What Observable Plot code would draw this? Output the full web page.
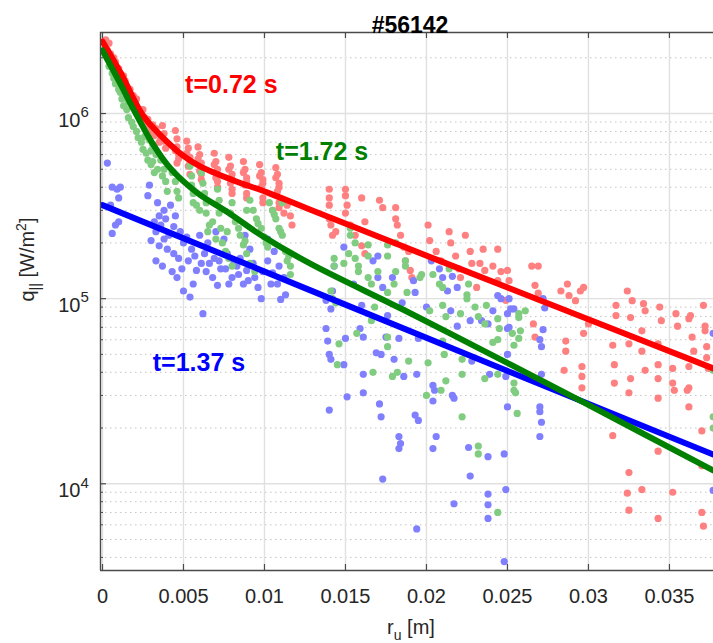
<!DOCTYPE html>
<html><head><meta charset="utf-8">
<script src="https://cdn.jsdelivr.net/npm/d3@7"></script>
<script src="https://cdn.jsdelivr.net/npm/@observablehq/plot@0.6"></script>
<style>body{margin:0;background:#fff} svg{display:block}</style>
</head><body><div id="chart"></div>
<script>
// ---- data: [r_u (m), q_par (W/m^2)] ----
const red = [
[0.0002,2.5e6],[0.0004,2.4e6],[0.0003,2.2e6],[0.0005,2.1e6],[0.0007,2.0e6],[0.0008,1.9e6],[0.0010,1.75e6],[0.0011,1.65e6],[0.0013,1.6e6],[0.0014,1.5e6],[0.0015,1.4e6],[0.0017,1.35e6],[0.0019,1.25e6],[0.0020,1.15e6],[0.0021,1.2e6],[0.0023,1.05e6],[0.0024,1.0e6],[0.0026,9.5e5],[0.0027,9.0e5],[0.0029,8.6e5],[0.0030,8.0e5],[0.0032,7.6e5],[0.0033,8.3e5],[0.0035,7.0e5],[0.0036,7.3e5],[0.0025,1.05e6],[0.0028,9.3e5],[0.0031,8.7e5],
[0.0037,8.6e5],[0.0038,7.8e5],[0.0038,7.1e5],[0.0039,6.5e5],
[0.0045,8.1e5],[0.0046,7.3e5],[0.0046,6.6e5],[0.0047,6.0e5],[0.0046,5.4e5],[0.0045,6.3e5],[0.0047,5.7e5],
[0.0052,7.1e5],[0.0053,6.5e5],[0.0054,5.8e5],[0.0053,5.2e5],[0.0054,4.7e5],[0.0052,6.1e5],[0.0054,5.5e5],
[0.0059,6.6e5],[0.0060,6.0e5],[0.0061,5.4e5],[0.0060,4.9e5],[0.0061,4.4e5],[0.0059,5.7e5],[0.0061,4.7e5],
[0.0069,6.1e5],[0.0070,5.5e5],[0.0071,5.0e5],[0.0070,4.5e5],[0.0071,4.0e5],[0.0069,5.3e5],[0.0071,4.3e5],
[0.0078,5.8e5],[0.0079,5.2e5],[0.0080,4.7e5],[0.0079,4.2e5],[0.0080,3.9e5],[0.0078,5.0e5],[0.0080,4.4e5],[0.0080,3.7e5],
[0.0087,5.5e5],[0.0088,5.0e5],[0.0089,4.5e5],[0.0088,4.1e5],[0.0089,3.7e5],[0.0087,4.8e5],[0.0089,4.3e5],[0.0089,3.5e5],
[0.0097,5.3e5],[0.0098,4.8e5],[0.0099,4.4e5],[0.0098,4.0e5],[0.0099,3.5e5],[0.0097,4.6e5],[0.0099,4.2e5],[0.0099,3.3e5],
[0.0107,5.1e5],[0.0108,4.7e5],[0.0109,4.2e5],[0.0108,3.8e5],[0.0109,3.3e5],[0.0107,4.5e5],[0.0109,4.0e5],[0.0109,3.1e5],
[0.0114,3.2e5],[0.0116,2.8e5],[0.0117,2.5e5],[0.0112,2.9e5],[0.0105,3.0e5],
[0.0140,3.9e5],[0.0140,3.5e5],[0.0140,3.2e5],[0.0150,3.9e5],[0.0150,3.6e5],[0.0151,3.2e5],[0.0160,3.5e5],[0.0171,3.4e5],[0.0181,3.1e5],[0.0173,3.1e5],
[0.0140,2.7e5],[0.0141,2.5e5],[0.0142,2.2e5],[0.0144,2.3e5],[0.0150,2.9e5],[0.0153,2.5e5],[0.0156,2.2e5],[0.0160,1.93e5],[0.0162,1.75e5],[0.0162,2.6e5],
[0.0181,2.7e5],[0.0182,2.5e5],[0.0184,2.2e5],[0.0186,1.9e5],[0.0187,1.6e5],[0.0190,1.42e5],[0.0191,1.3e5],[0.0189,1.8e5],
[0.0201,2.5e5],[0.0202,2.06e5],[0.0206,1.8e5],[0.0209,1.6e5],[0.0214,2.3e5],[0.0215,2.0e5],[0.0218,1.7e5],[0.0220,1.45e5],[0.0221,1.3e5],
[0.0224,2.2e5],[0.0227,1.8e5],[0.0228,1.55e5],[0.0231,1.15e5],[0.0233,1.55e5],[0.0236,1.42e5],[0.0241,1.5e5],[0.0244,1.25e5],[0.0249,9.8e4],[0.0246,1.4e5],
[0.0235,1.85e5],[0.0244,1.85e5],[0.0265,1.5e5],[0.0269,1.5e5],[0.0287,1.2e5],[0.0297,1.15e5],[0.0283,1.1e5],
[0.0250,1.42e5],[0.0251,1.25e5],[0.0267,1.18e5],[0.0269,1.07e5],[0.0266,7.3e4],[0.0267,6.2e4],
[0.0288,1.04e5],[0.0292,9.75e4],[0.0295,1.1e5],[0.0286,5.9e4],[0.0286,5.2e4],[0.0285,4.1e4],[0.0296,4.3e4],[0.0296,3.8e4],[0.0296,3.3e4],[0.0297,6.5e4],[0.0300,7.3e4],
[0.0317,9.2e4],[0.0317,8.1e4],[0.0324,1.1e5],[0.0327,9.75e4],[0.0326,7.9e4],[0.0315,5.6e4],[0.0316,4.4e4],[0.0316,3.5e4],[0.0325,5.7e4],[0.0326,3.7e4],
[0.0334,9.4e4],[0.0335,8.6e4],[0.0333,6.7e4],[0.0333,5.2e4],[0.0335,4.1e4],[0.0344,9.0e4],[0.0345,7.6e4],[0.0343,5.7e4],[0.0343,4.4e4],[0.0343,3.7e4],
[0.0354,8.3e4],[0.0355,7.1e4],[0.0352,4.2e4],[0.0352,3.5e4],[0.0362,7.8e4],[0.0364,6.2e4],[0.0365,5.2e4],[0.0362,4.3e4],[0.0362,3.3e4],
[0.0371,9.2e4],[0.0372,7.1e4],[0.0372,6.7e4],[0.0373,5.5e4],[0.0373,4.8e4],[0.0374,4.2e4],[0.0363,8.1e4],
[0.0325,3.1e4],[0.0343,2.9e4],[0.0315,1.82e4],[0.0343,1.5e4],[0.0325,1.15e4],[0.0324,8.9e3],[0.0333,9.3e3],[0.0325,7.2e3],[0.0343,6.5e3],[0.0352,9.0e3],[0.0353,3.2e4],[0.0361,3.2e4],[0.0362,2.6e4],[0.0370,1.93e4],[0.0370,1.25e4],[0.0370,7.0e3],[0.0371,5.9e3]
];
const blue = [
[0.0003,5.4e5],[0.0006,4.0e5],[0.0009,3.9e5],[0.0011,4.0e5],[0.0010,3.5e5],[0.0005,3.2e5],[0.0008,2.5e5],[0.0006,2.25e5],[0.0010,2.6e5],[0.0029,4.1e5],[0.0028,3.6e5],[0.0034,3.3e5],[0.0038,3.0e5],[0.0042,3.2e5],[0.0045,2.8e5],
[0.0032,2.6e5],[0.0033,2.3e5],[0.0036,2.5e5],[0.0030,2.06e5],[0.0035,1.93e5],[0.0038,2.1e5],[0.0041,2.2e5],[0.0040,1.85e5],[0.0044,1.75e5],[0.0033,1.6e5],[0.0037,1.5e5],[0.0048,2.3e5],[0.0050,2.0e5],[0.0047,1.65e5],[0.0043,1.4e5],[0.0046,1.3e5],[0.0053,1.6e5],[0.0055,1.85e5],[0.0058,1.42e5],[0.0056,1.2e5],[0.0050,1.1e5],[0.0054,1.02e5],[0.0062,8.3e4],[0.0060,2.2e5],[0.0063,1.75e5],[0.0066,1.55e5],[0.0068,1.3e5],[0.0071,1.18e5],[0.0065,2.0e5],[0.0072,1.6e5],[0.0076,1.45e5],[0.0080,1.3e5],[0.0078,1.2e5],[0.0083,1.5e5],[0.0085,1.65e5],[0.0087,1.2e5],[0.0089,1.42e5],[0.0091,1.85e5],[0.0094,1.3e5],[0.0098,1.0e5],[0.0102,1.6e5],[0.0105,1.38e5],[0.0108,1.2e5],[0.0110,9.9e4],[0.0113,1.05e5],[0.0070,2.3e5],[0.0075,2.1e5],[0.0088,2.2e5],[0.0102,2.1e5],[0.0106,1.8e5],
[0.0039,2.7e5],[0.0044,2.45e5],[0.0052,2.15e5],[0.0057,1.7e5],[0.0061,1.55e5],[0.0064,1.4e5],[0.0069,1.65e5],[0.0073,1.45e5],[0.0077,1.75e5],[0.0081,1.6e5],[0.0084,1.35e5],[0.0090,1.25e5],[0.0093,1.55e5],[0.0096,1.15e5],[0.0099,1.4e5],[0.0104,1.2e5],[0.0109,1.5e5],[0.0112,1.3e5],[0.0035,2.8e5],[0.0049,1.45e5],
[0.0138,6.9e4],[0.0139,5.9e4],[0.0140,5.0e4],[0.0141,4.7e4],[0.0142,1.1e5],[0.0138,9.8e4],[0.0141,8.8e4],[0.0149,1.9e5],[0.0150,6.1e4],[0.0149,4.4e4],[0.0159,6.9e4],[0.0161,6.2e4],[0.0161,3.9e4],[0.0167,1.6e5],[0.0170,1.3e5],[0.0173,1.15e5],[0.0169,5.1e4],[0.0175,6.2e4],[0.0172,5.0e4],[0.0183,6.1e4],[0.0180,4.7e4],[0.0186,3.8e4],[0.0193,1.08e5],[0.0195,6.1e4],[0.0194,3.9e4],[0.0204,3.4e4],[0.0208,1.45e5],[0.0216,1.32e5],[0.0213,1.1e5],[0.0215,8.6e4],[0.0219,1.15e5],[0.0219,7.1e4],[0.0227,7.6e4],[0.0234,7.6e4],[0.0238,7.3e4],[0.0241,8.6e4],[0.0228,4.6e4],[0.0239,3.9e4],[0.0244,1.04e5],[0.0251,7.0e4],[0.0170,1.7e5],[0.0179,1.3e5],[0.0192,1.25e5],[0.0203,1.6e5],[0.0210,1.3e5],[0.0246,1.0e5],[0.0252,8.8e4],[0.0272,1.0e5],[0.0143,1.5e5],[0.0155,1.2e5],[0.0160,9.2e4],[0.0185,9.5e4],[0.0200,9.0e4],[0.0176,8.1e4],
[0.0140,2.5e4],[0.0151,2.95e4],[0.0161,3.1e4],[0.0171,2.7e4],[0.0172,2.3e4],[0.0183,1.8e4],[0.0184,1.65e4],[0.0183,1.55e4],[0.0173,1.06e4],[0.0193,2.35e4],[0.0195,2.2e4],[0.0205,3.2e4],[0.0204,2.8e4],[0.0206,1.8e4],[0.0204,1.55e4],[0.0216,3.0e4],[0.0217,2.9e4],[0.0226,1.57e4],[0.0227,1.1e4],[0.0238,1.4e4],[0.0238,8.8e3],[0.0238,7.7e3],[0.0238,6.5e3],[0.0217,7.8e3],[0.0194,5.7e3],[0.0248,1.45e4],[0.0249,9.3e3],[0.0250,2.6e4],[0.0248,3.8e3],
[0.0270,2.6e4],[0.0270,2.45e4],[0.0271,2.15e4],[0.0270,1.8e4],
[0.0251,1.0e5],[0.0254,8.8e4],[0.0250,8.3e4],[0.0250,6.9e4],[0.0273,8.9e4],[0.0272,6.8e4],[0.0270,6.0e4],[0.0271,5.5e4],[0.0271,3.9e4],[0.0250,5.0e4],[0.0249,3.8e4],
[0.0377,9.2e3],[0.0377,6.5e4]
];
const green = [
[0.0001,2.2e6],[0.0003,2.0e6],[0.0004,1.8e6],[0.0005,1.85e6],[0.0006,1.65e6],[0.0007,1.55e6],[0.0008,1.45e6],[0.0010,1.35e6],[0.0011,1.3e6],[0.0012,1.2e6],[0.0013,1.1e6],[0.0015,1.05e6],[0.0016,9.5e5],[0.0018,9.0e5],[0.0019,8.5e5],[0.0021,8.0e5],[0.0022,7.4e5],[0.0024,7.0e5],[0.0025,6.4e5],[0.0027,6.1e5],[0.0028,5.6e5],[0.0030,5.3e5],[0.0031,6.8e5],[0.0033,6.0e5],[0.0034,5.0e5],[0.0026,7.5e5],[0.0016,1.15e6],
[0.0029,7.2e5],[0.0030,6.3e5],[0.0031,5.5e5],[0.0032,4.8e5],
[0.0036,5.6e5],[0.0038,5.0e5],[0.0039,4.3e5],[0.0040,3.8e5],[0.0037,4.6e5],
[0.0043,4.8e5],[0.0045,4.3e5],[0.0046,3.8e5],[0.0047,3.5e5],
[0.0054,5.2e5],[0.0055,4.6e5],[0.0055,4.1e5],[0.0056,3.7e5],[0.0056,3.3e5],
[0.0061,4.8e5],[0.0062,4.2e5],[0.0063,3.7e5],[0.0064,3.3e5],[0.0064,2.9e5],
[0.0071,3.9e5],[0.0072,3.4e5],[0.0072,2.9e5],
[0.0060,3.0e5],[0.0068,2.6e5],[0.0065,2.3e5],[0.0070,2.1e5],[0.0074,2.0e5],[0.0073,2.4e5],[0.0076,1.8e5],[0.0078,1.65e5],[0.0080,1.5e5],[0.0082,2.6e5],[0.0085,2.2e5],[0.0087,1.95e5],[0.0089,1.75e5],[0.0091,1.55e5],[0.0094,1.4e5],[0.0093,3.0e5],[0.0095,2.7e5],[0.0098,2.4e5],[0.0100,2.15e5],[0.0102,1.9e5],[0.0105,3.0e5],[0.0107,2.7e5],[0.0109,2.4e5],[0.0111,2.2e5],[0.0113,1.8e5],[0.0114,1.6e5],[0.0116,1.5e5],[0.0116,1.35e5],[0.0080,3.3e5],[0.0079,2.9e5],[0.0091,3.4e5],[0.0089,3.0e5],[0.0103,3.3e5],[0.0111,3.3e5],
[0.0077,2.3e5],[0.0084,2.4e5],[0.0088,2.05e5],[0.0096,2.55e5],[0.0101,2.0e5],[0.0106,2.85e5],[0.0110,2.3e5],[0.0115,1.7e5],[0.0066,2.5e5],[0.0058,3.2e5],
[0.0153,2.4e5],[0.0153,2.2e5],[0.0143,1.65e5],[0.0143,1.5e5],[0.0149,1.55e5],[0.0152,1.75e5],[0.0156,1.65e5],[0.0144,9.5e4],[0.0141,1.1e5],[0.0142,1.0e5],[0.0158,1.5e5],[0.0158,1.4e5],[0.0164,1.95e5],[0.0164,1.3e5],[0.0166,1.2e5],[0.0170,1.4e5],[0.0176,1.95e5],[0.0176,1.7e5],[0.0181,1.4e5],[0.0180,1.2e5],[0.0187,1.6e5],[0.0187,1.5e5],[0.0188,1.08e5],[0.0176,1.08e5],[0.0168,9.0e4],[0.0166,7.6e4],[0.0157,6.5e4],[0.0146,5.7e4],[0.0145,4.4e4],[0.0176,6.2e4],[0.0176,5.5e4],[0.0189,4.6e4],[0.0182,4.0e4],[0.0167,4.0e4],[0.0179,3.8e4],
[0.0197,1.35e5],[0.0204,1.35e5],[0.0210,1.15e5],[0.0210,9.2e4],[0.0202,8.6e4],[0.0212,8.0e4],[0.0210,5.9e4],[0.0211,5.0e4],[0.0201,4.5e4],[0.0214,1.45e5],[0.0221,8.3e4],[0.0222,4.7e4],[0.0222,3.9e4],[0.0226,1.2e5],[0.0225,1.0e5],[0.0230,9.0e4],[0.0232,8.0e4],[0.0236,7.3e4],[0.0237,9.2e4],[0.0244,7.8e4],[0.0244,6.0e4],[0.0241,5.8e4],[0.0245,6.9e4],[0.0244,3.9e4],[0.0236,3.7e4],[0.0212,3.6e4],[0.0156,2.0e5],[0.0164,1.7e5],[0.0181,2.0e5],[0.0196,1.3e5],[0.0208,1.2e5],[0.0225,1.05e5],[0.0261,8.6e4],
[0.0257,8.3e4],[0.0257,7.9e4],[0.0258,6.7e4],[0.0257,6.1e4],[0.0254,5.6e4],[0.0253,6.5e4],[0.0254,3.5e4],[0.0254,3.2e4],[0.0200,3.0e4],[0.0209,3.2e4],[0.0222,2.3e4],[0.0232,1.6e4],[0.0232,1.45e4],[0.0244,7.0e3],[0.0255,3.1e4],[0.0256,2.4e4],[0.0377,4.1e4],[0.0377,2.3e4],[0.0377,2.0e4]
];

// fitted profiles
const redFitX   = [0, 0.0011, 0.0025, 0.0036, 0.005, 0.006, 0.0081, 0.0102, 0.0128, 0.0252, 0.0377];
const redFitY   = [2.45e6, 1.67e6, 9.75e5, 7.6e5, 5.9e5, 5.2e5, 4.35e5, 3.74e5, 3.03e5, 1.13e5, 4.2e4];
const blueFitX  = [0, 0.0125, 0.0252, 0.0377];
const blueFitY  = [3.2e5, 1.14e5, 4.0e4, 1.44e4];
const greenFitX = [0, 0.0011, 0.0019, 0.003, 0.004, 0.005, 0.006, 0.0078, 0.0098, 0.0128, 0.0187, 0.0252, 0.0297, 0.0377];
const greenFitY = [2.19e6, 1.45e6, 1.06e6, 7.1e5, 5.3e5, 4.3e5, 3.65e5, 2.9e5, 2.2e5, 1.55e5, 8.6e4, 4.4e4, 2.75e4, 1.18e4];

// labels
const labelText = ["t=0.72 s", "t=1.37 s", "t=1.72 s"];
const labelX = [0.0051, 0.0031, 0.0107];
const labelY = [1.42e6, 4.5e4, 6.2e5];
const titleText = "#56142";

// axes
const xLim = [-0.000123, 0.03772];
const yLim = [3.4e3, 2.74e6];
const xTicks = [0, 0.005, 0.01, 0.015, 0.02, 0.025, 0.03, 0.035];
const xTickLabels = ["0", "0.005", "0.01", "0.015", "0.02", "0.025", "0.03", "0.035"];
const yMajor = [1e4, 1e5, 1e6];
const yMinor = [4e3,5e3,6e3,7e3,8e3,9e3,2e4,3e4,4e4,5e4,6e4,7e4,8e4,9e4,2e5,3e5,4e5,5e5,6e5,7e5,8e5,9e5,2e6];

const pairs = (xs, ys) => xs.map((x, i) => [x, ys[i]]);
const FW = 613, FH = 538;
const axisColor = "#262626";

const svg = Plot.plot({
  width: 713, height: 643,
  marginTop: 32, marginLeft: 100, marginRight: 0, marginBottom: 73,
  x: {type: "linear", domain: xLim},
  y: {type: "log", domain: yLim, axis: null},
  style: {fontFamily: "'Liberation Sans', Arial, Helvetica, sans-serif", background: "#fff", color: axisColor},
  marks: [
    Plot.gridY(yMinor, {stroke: "#c4c4c4", strokeOpacity: 1, strokeWidth: 1, strokeDasharray: "1.5,3.5"}),
    Plot.gridY(yMajor, {stroke: "#e0e0e0", strokeOpacity: 1, strokeWidth: 1.4}),
    Plot.gridX(xTicks, {stroke: "#e0e0e0", strokeOpacity: 1, strokeWidth: 1.4}),
    Plot.dot(red,   {x: d => d[0], y: d => d[1], r: 3.6, fill: "#ff8080", clip: true}),
    Plot.dot(blue,  {x: d => d[0], y: d => d[1], r: 3.6, fill: "#8080ff", clip: true}),
    Plot.dot(green, {x: d => d[0], y: d => d[1], r: 3.6, fill: "#80cc80", clip: true}),
    Plot.line(pairs(redFitX, redFitY),     {x: d => d[0], y: d => d[1], stroke: "#ff0000", strokeWidth: 6, curve: "catmull-rom", clip: true}),
    Plot.line(pairs(blueFitX, blueFitY),   {x: d => d[0], y: d => d[1], stroke: "#0000ff", strokeWidth: 6, clip: true}),
    Plot.line(pairs(greenFitX, greenFitY), {x: d => d[0], y: d => d[1], stroke: "#008000", strokeWidth: 6, curve: "catmull-rom", clip: true}),
    // axes box (top, left, bottom)
    Plot.ruleX([xLim[0]], {stroke: "#4a4a4a", strokeWidth: 1.4}),
    Plot.ruleY([yLim[0]], {stroke: "#4a4a4a", strokeWidth: 1.4}),
    Plot.ruleY([yLim[1]], {stroke: "#4a4a4a", strokeWidth: 1.4}),
    // inward ticks
    Plot.tickX(xTicks, {x: d => d, insetBottom: FH - 6, stroke: "#4a4a4a", strokeWidth: 1.2}),
    Plot.tickX(xTicks, {x: d => d, insetTop: FH - 6, stroke: "#4a4a4a", strokeWidth: 1.2}),
    Plot.tickY(yMajor, {y: d => d, insetRight: FW - 6, stroke: "#4a4a4a", strokeWidth: 1.2}),
    Plot.tickY(yMinor, {y: d => d, insetRight: FW - 3, stroke: "#4a4a4a", strokeWidth: 1}),
    // x tick labels
    Plot.axisX(xTicks, {tickSize: 0, tickPadding: 18, fontSize: 20, label: null,
      tickFormat: d => xTickLabels[xTicks.indexOf(d)]}),
    // y tick labels 10^n
    Plot.text(yMajor, {y: d => d, frameAnchor: "left", text: () => "10", textAnchor: "end", dx: -20, dy: 7, fontSize: 20, fill: axisColor}),
    Plot.text(yMajor, {y: d => d, frameAnchor: "left", text: d => String(Math.round(Math.log10(d))), textAnchor: "start", dx: -20, dy: -1, fontSize: 15, fill: axisColor}),
    // series labels
    Plot.text([labelText[0]], {x: () => labelX[0], y: () => labelY[0], textAnchor: "start", fontWeight: "bold", fontSize: 25, fill: "#ff0000"}),
    Plot.text([labelText[1]], {x: () => labelX[1], y: () => labelY[1], textAnchor: "start", fontWeight: "bold", fontSize: 25, fill: "#0000ff"}),
    Plot.text([labelText[2]], {x: () => labelX[2], y: () => labelY[2], textAnchor: "start", fontWeight: "bold", fontSize: 25, fill: "#008000"}),
    // title and axis labels
    Plot.text([titleText], {frameAnchor: "top", dx: 3, dy: -16, fontWeight: "bold", fontSize: 23, fill: "#000"}),
    Plot.text(["q|| [W/m2]"], {frameAnchor: "left", rotate: -90, dx: -67, lineAnchor: "bottom", fontSize: 20, fill: axisColor}),
    Plot.text(["ru [m]"], {frameAnchor: "bottom", dx: 4, dy: 63, lineAnchor: "bottom", fontSize: 20, fill: axisColor})
  ]
});

// sub/superscripts in the axis labels
d3.select(svg).selectAll("text").filter(function() { return this.textContent === "q|| [W/m2]"; })
  .html('q<tspan dy="6" font-size="14">||</tspan><tspan dy="-6"> [W/m</tspan><tspan dy="-8" font-size="14">2</tspan><tspan dy="8">]</tspan>');
d3.select(svg).selectAll("text").filter(function() { return this.textContent === "ru [m]"; })
  .html('r<tspan dy="6" font-size="14">u</tspan><tspan dy="-6"> [m]</tspan>');

document.getElementById("chart").appendChild(svg);
</script>
</body></html>
